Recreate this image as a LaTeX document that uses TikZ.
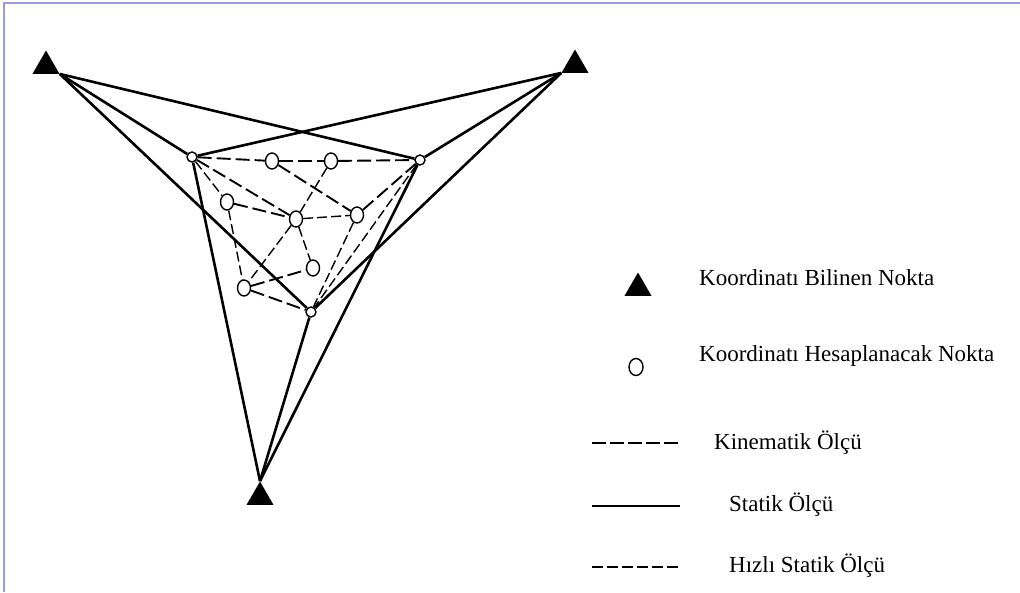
\documentclass[tikz,border=0pt]{standalone}
\usepackage{fontspec}
\setmainfont{Liberation Serif}
\usepackage{tikz}
\usetikzlibrary{shapes.geometric}
\definecolor{framelav}{RGB}{155,155,222}

\begin{document}
\begin{tikzpicture}[x=1pt, y=-1pt,
  known/.style={regular polygon, regular polygon sides=3, fill=black, inner sep=0pt, minimum size=31pt},
  pt/.style={draw, ellipse, line width=1.4pt, fill=white, inner sep=0pt, minimum width=13pt, minimum height=16pt},
  cpt/.style={pt, minimum width=10pt, minimum height=10pt},
  statik/.style={line width=2.6pt},
  kinem/.style={line width=1.9pt, dash pattern=on 14pt off 5pt},
  hizli/.style={line width=1.4pt, dash pattern=on 10pt off 4pt},
  lab/.style={anchor=west, inner sep=0pt, font=\fontsize{23}{27}\selectfont}
]
\useasboundingbox (0,0) rectangle (1020,592);
\fill[white] (0,0) rectangle (1020,592);
\draw[framelav, line width=2.2pt] (4,592) -- (4,3) -- (1020,3);

% known points
\node[known] (ka) at (46,66) {};
\node[known] (kb) at (575,65) {};
\node[known] (kc) at (260,497) {};

% points to compute
\node[cpt] (p1) at (192,157) {};
\node[pt] (p2) at (272,161) {};
\node[pt] (p3) at (331,161) {};
\node[cpt] (p4) at (420,160) {};
\node[pt] (p5) at (227,202) {};
\node[pt] (p6) at (296,219) {};
\node[pt] (p7) at (357,215) {};
\node[pt] (p8) at (313,268) {};
\node[pt] (p9) at (244,288) {};
\node[cpt] (p10) at (311,312) {};

% static baselines
\draw[statik] (ka.corner 3) -- (p4);
\draw[statik] (ka.corner 3) -- (p1);
\draw[statik] (ka.corner 3) -- (p10);
\draw[statik] (kb.corner 2) -- (p1);
\draw[statik] (kb.corner 2) -- (p4);
\draw[statik] (kb.corner 2) -- (p10);
\draw[statik] (kc.corner 1) -- (p1);
\draw[statik] (kc.corner 1) -- (p4);
\draw[statik] (kc.corner 1) -- (p10);

% kinematic
\draw[kinem] (p1) -- (p2);
\draw[kinem] (p2) -- (p3);
\draw[kinem] (p3) -- (p4);
\draw[kinem] (p1) -- (p6);
\draw[kinem] (p5) -- (p6);
\draw[kinem] (p2) -- (p7);
\draw[kinem] (p7) -- (p4);
\draw[kinem] (p9) -- (p8);
\draw[kinem] (p9) -- (p10);

% fast static
\draw[hizli] (p1) -- (p5);
\draw[hizli] (p5) -- (p9);
\draw[hizli] (p3) -- (p6);
\draw[hizli] (p6) -- (p9);
\draw[hizli] (p6) -- (p7);
\draw[hizli] (p6) -- (p8);
\draw[hizli] (p4) -- (p10);
\draw[hizli] (p7) -- (p10);

% legend
\node[known, minimum size=31pt] (legknown) at (638,288) {};
\node[lab] (legknowntxt) at (699,278) {Koordinatı Bilinen Nokta};
\node[pt, minimum width=14pt, minimum height=17pt] (legpt) at (636,367) {};
\node[lab] (legpttxt) at (699,356) {Koordinatı Hesaplanacak Nokta};
\coordinate (kin1) at (592,443);
\coordinate (kin2) at (680,443);
\draw[kinem, dash pattern=on 14pt off 4pt] (kin1) -- (kin2);
\node[lab] (kintxt) at (714,443) {Kinematik Ölçü};
\coordinate (sta1) at (592,506);
\coordinate (sta2) at (680,506);
\draw[statik] (sta1) -- (sta2);
\node[lab] (statxt) at (729,505) {Statik Ölçü};
\coordinate (hiz1) at (592,567);
\coordinate (hiz2) at (680,567);
\draw[hizli, line width=1.9pt, dash pattern=on 11pt off 4pt] (hiz1) -- (hiz2);
\node[lab] (hiztxt) at (729,566) {Hızlı Statik Ölçü};
\end{tikzpicture}
\end{document}
